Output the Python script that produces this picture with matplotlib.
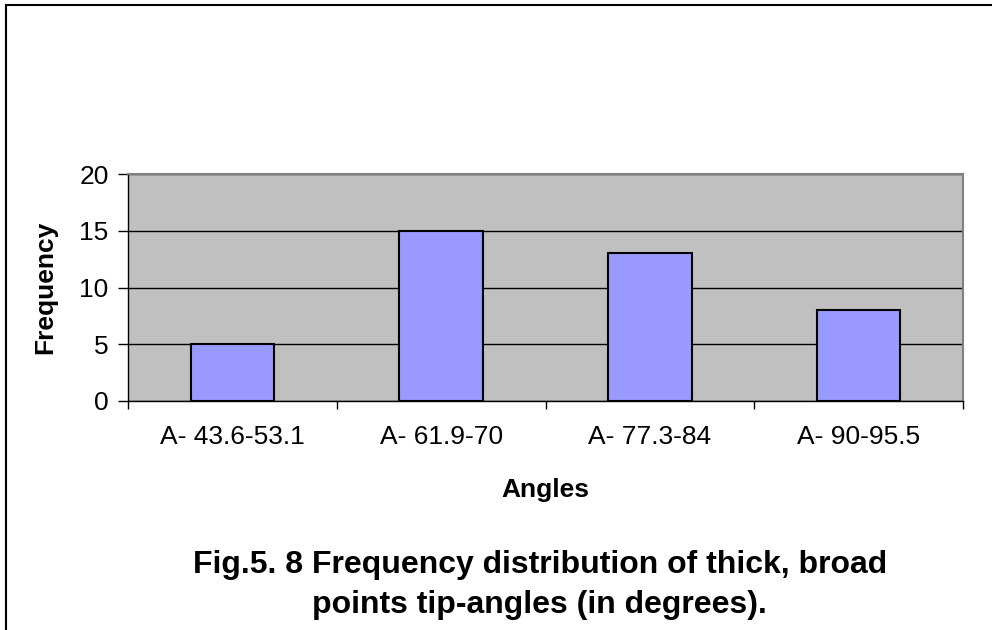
import numpy as np
import matplotlib
matplotlib.use('Agg')
import matplotlib.pyplot as plt
from matplotlib.lines import Line2D

plt.rcParams['font.family'] = ['Liberation Sans', 'DejaVu Sans']

categories = ['A- 43.6-53.1', 'A- 61.9-70', 'A- 77.3-84', 'A- 90-95.5']
frequency = [5, 15, 13, 8]
y_ticks = [0, 5, 10, 15, 20]

fig = plt.figure(figsize=(9.92, 6.3), dpi=100)
ax = fig.add_axes([0.129, 0.3635, 0.8418, 0.3603])

x = np.arange(len(categories))
ax.set_facecolor('#C0C0C0')
ax.bar(x, frequency, width=0.4, color='#9999FF', edgecolor='black',
       linewidth=1.5, zorder=3)

ax.set_xlim(-0.5, len(categories) - 0.5)
ax.set_ylim(0, 20)
ax.set_yticks(y_ticks)
ax.yaxis.grid(True, color='black', linewidth=1, zorder=1)
ax.set_axisbelow(True)

ax.set_xticks(x)
ax.set_xticklabels(categories, fontsize=19)
ax.set_xticks(np.arange(len(categories) + 1) - 0.5, minor=True)
ax.tick_params(axis='x', which='major', length=0, pad=17)
ax.tick_params(axis='x', which='minor', length=6, width=1, direction='out')
ax.tick_params(axis='y', labelsize=19, length=7, width=1, pad=7)

for side in ['top', 'right']:
    ax.spines[side].set_color('#808080')
    ax.spines[side].set_linewidth(1.5)
for side in ['left', 'bottom']:
    ax.spines[side].set_color('black')
    ax.spines[side].set_linewidth(1)

fig.text(0.0454, 0.5436, 'Frequency', rotation=90, ha='center', va='center',
         fontsize=19, fontweight='bold')
fig.text(0.55, 1 - 497 / 630, 'Angles', ha='center', va='baseline',
         fontsize=19, fontweight='bold')
fig.text(0.544, 1 - 573 / 630, 'Fig.5. 8 Frequency distribution of thick, broad',
         ha='center', va='baseline', fontsize=23, fontweight='bold')
fig.text(0.544, 1 - 613 / 630, 'points tip-angles (in degrees).',
         ha='center', va='baseline', fontsize=23, fontweight='bold')

# outer frame (top and left edges visible in the original)
fig.add_artist(Line2D([0.006, 1.0], [0.992, 0.992], transform=fig.transFigure,
                      color='black', linewidth=1.5))
fig.add_artist(Line2D([0.006, 0.006], [0.0, 0.992], transform=fig.transFigure,
                      color='black', linewidth=1.5))

fig.savefig('out.png', dpi=100)
